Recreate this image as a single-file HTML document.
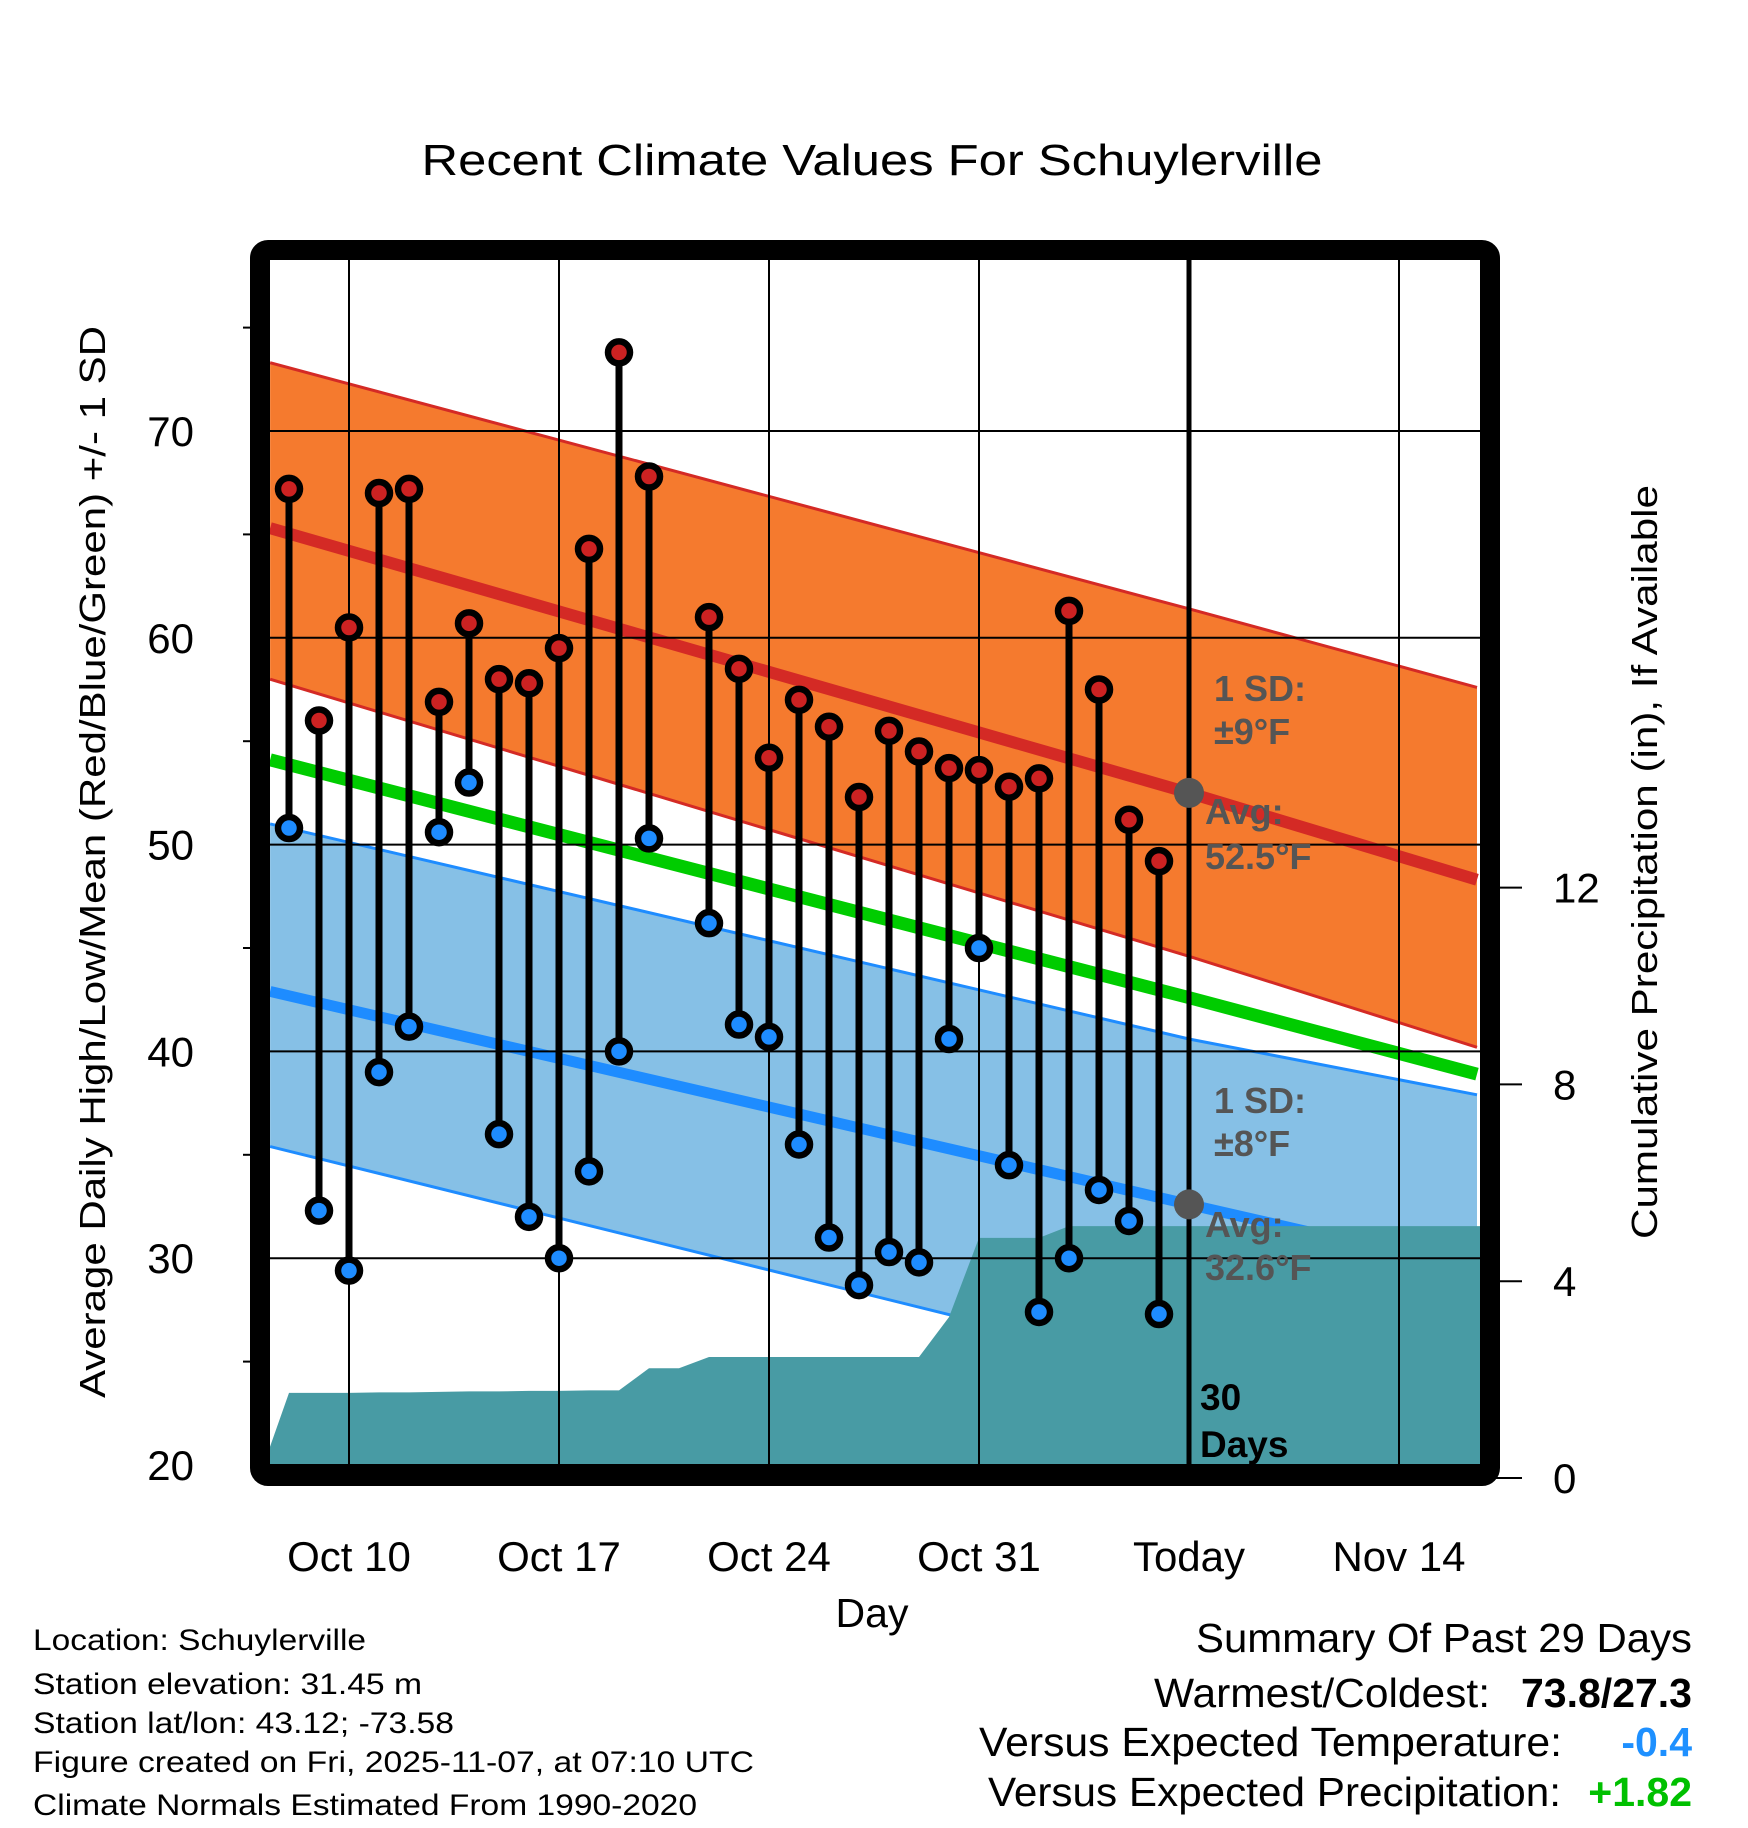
<!DOCTYPE html>
<html><head><meta charset="utf-8"><style>
html,body{margin:0;padding:0;background:#fff;}
svg{display:block;font-family:"Liberation Sans",Arial,sans-serif;}
</style></head><body>
<svg id="chart" width="1748" height="1828" viewBox="0 0 1748 1828" xmlns="http://www.w3.org/2000/svg">
<defs><clipPath id="plotclip"><rect x="270" y="260" width="1210" height="1206"/></clipPath></defs>
<text x="872" y="175" font-size="44" text-anchor="middle" textLength="901" lengthAdjust="spacingAndGlyphs">Recent Climate Values For Schuylerville</text>
<g id="grid"></g>
<g id="plot" clip-path="url(#plotclip)"></g>
<g id="overlay"></g>
<rect x="260" y="250" width="1230" height="1226" rx="8" fill="none" stroke="#000" stroke-width="20"/>
<g id="axes"></g>
<text transform="translate(105,862) rotate(-90)" font-size="36" text-anchor="middle" textLength="1072" lengthAdjust="spacingAndGlyphs">Average Daily High/Low/Mean (Red/Blue/Green) +/- 1 SD</text>
<text transform="translate(1657,862) rotate(-90)" font-size="36" text-anchor="middle" textLength="754" lengthAdjust="spacingAndGlyphs">Cumulative Precipitation (in), If Available</text>
<text x="872" y="1627" font-size="41" text-anchor="middle">Day</text>
<g font-size="30">
<text x="33" y="1650" textLength="333" lengthAdjust="spacingAndGlyphs">Location: Schuylerville</text>
<text x="33" y="1694" textLength="389" lengthAdjust="spacingAndGlyphs">Station elevation: 31.45 m</text>
<text x="33" y="1733" textLength="421" lengthAdjust="spacingAndGlyphs">Station lat/lon: 43.12; -73.58</text>
<text x="33" y="1772" textLength="721" lengthAdjust="spacingAndGlyphs">Figure created on Fri, 2025-11-07, at 07:10 UTC</text>
<text x="33" y="1815" textLength="664" lengthAdjust="spacingAndGlyphs">Climate Normals Estimated From 1990-2020</text>
</g>
<g font-size="41">
<text x="1196" y="1652" textLength="496" lengthAdjust="spacingAndGlyphs">Summary Of Past 29 Days</text>
<text x="1154" y="1707" textLength="336" lengthAdjust="spacingAndGlyphs">Warmest/Coldest:</text>
<text x="1692" y="1707" font-weight="bold" text-anchor="end">73.8/27.3</text>
<text x="979" y="1756" textLength="583" lengthAdjust="spacingAndGlyphs">Versus Expected Temperature:</text>
<text x="1692" y="1756" font-weight="bold" fill="#1e90ff" text-anchor="end">-0.4</text>
<text x="988" y="1806" textLength="573" lengthAdjust="spacingAndGlyphs">Versus Expected Precipitation:</text>
<text x="1692" y="1806" font-weight="bold" fill="#00c000" text-anchor="end">+1.82</text>
</g>
</svg>
<script>
// day index: 0 = Oct 10
const dayIdx = [-2,-1,0,1,2,3,4,5,6,7,8,9,10,12,13,14,15,16,17,18,19,20,21,22,23,24,25,26,27];
const highs = [67.2,56.0,60.5,67.0,67.2,56.9,60.7,58.0,57.8,59.5,64.3,73.8,67.8,61.0,58.5,54.2,57.0,55.7,52.3,55.5,54.5,53.7,53.6,52.8,53.2,61.3,57.5,51.2,49.2];
const lows = [50.8,32.3,29.4,39.0,41.2,50.6,53.0,36.0,32.0,30.0,34.2,40.0,50.3,46.2,41.3,40.7,35.5,31.0,28.7,30.3,29.8,40.6,45.0,34.5,27.4,30.0,33.3,31.8,27.3];
const precipDays = [-3,-2,-1,0,1,2,3,4,5,6,7,8,9,10,11,12,13,14,15,16,17,18,19,20,21,22,23,24,25,26,27,28,29,30,31,32,33,34,35,36,37,38];
const precipVals = [0,1.73,1.73,1.73,1.74,1.74,1.75,1.76,1.76,1.77,1.77,1.78,1.78,2.23,2.23,2.46,2.46,2.46,2.46,2.46,2.46,2.46,2.46,3.27,4.88,4.88,4.88,5.12,5.12,5.12,5.12,5.12,5.12,5.12,5.12,5.12,5.12,5.12,5.12,5.12,5.12,5.12];
const normDays = [-2.63, 28, 37.6];
const normHigh = [65.3, 52.5, 48.3];
const normLow = [42.9, 32.6, 29.4];
const normMean = [54.1, 42.6, 38.9];
const highUpper = [73.3, 61.4, 57.6];
const highLower = [58.0, 44.6, 40.2];
const lowUpper = [51.0, 40.6, 37.9];
const lowLower = [35.4, 24.4, 20.6];
const xTickDays = [0,7,14,21,28,35];
const xTickLabels = ["Oct 10","Oct 17","Oct 24","Oct 31","Today","Nov 14"];
const yTicks = [20,30,40,50,60,70];
const yMinor = [25,35,45,55,65,75];
const pTicks = [0,4,8,12];
const todayDay = 28;

const NS="http://www.w3.org/2000/svg";
const X = d => 349 + d*30;
const Y = t => 1465 - (t-20)*20.68;
const YP = p => 1478 - p*49.2;
function mk(tag, attrs, parent){const e=document.createElementNS(NS,tag);for(const k in attrs)e.setAttribute(k,attrs[k]);parent.appendChild(e);return e;}
const plot=document.getElementById('plot'), grid=document.getElementById('grid'), axes=document.getElementById('axes'), overlay=document.getElementById('overlay');
function pts(days, vals){return days.map((d,i)=>X(d)+','+Y(vals[i])).join(' ');}
function band(up, lo, fill, stroke, name){
  const p = pts(normDays, up) + ' ' + normDays.slice().reverse().map((d,i)=>X(d)+','+Y(lo[lo.length-1-i])).join(' ');
  const b=mk('polygon',{points:p,fill:fill},plot);
  
  
  const l1=mk('polyline',{points:pts(normDays,up),fill:'none',stroke:stroke,'stroke-width':3},plot);
  
  
  const l2=mk('polyline',{points:pts(normDays,lo),fill:'none',stroke:stroke,'stroke-width':3},plot);
  
  
}
band(highUpper, highLower, '#f57a2e', '#d42a25', 'high-sd-band');
band(lowUpper, lowLower, '#86c0e6', '#1e8cff', 'low-sd-band');
const lh=mk('polyline',{points:pts(normDays,normHigh),fill:'none',stroke:'#d42a25','stroke-width':12},plot);


const lm=mk('polyline',{points:pts(normDays,normMean),fill:'none',stroke:'#00cc00','stroke-width':13},plot);


const ll=mk('polyline',{points:pts(normDays,normLow),fill:'none',stroke:'#1e8cff','stroke-width':11},plot);


// precip
let pp = X(precipDays[0])+','+YP(0)+' '+precipDays.map((d,i)=>X(d)+','+YP(precipVals[i])).join(' ')+' '+X(precipDays[precipDays.length-1])+','+YP(0);
const pa=mk('polygon',{points:pp,fill:'#489ba4'},plot);


// grid
xTickDays.forEach((d,i)=>{
  const g=mk('line',{x1:X(d),x2:X(d),y1:218,y2:1510,stroke:'#000','stroke-width':2},grid);
  
  
  const t=mk('text',{x:X(d),y:1571,'font-size':42,'text-anchor':'middle'},axes);
  t.textContent=xTickLabels[i];
  
  
});
yTicks.forEach(v=>{
  const g=mk('line',{x1:225,x2:1480,y1:Y(v),y2:Y(v),stroke:'#000','stroke-width':2},grid);
  
  
  const t=mk('text',{x:194,y:Y(v)+15,'font-size':42,'text-anchor':'end'},axes);
  t.textContent=v;
  
  
});
yMinor.forEach(v=>{
  const g=mk('line',{x1:243,x2:252,y1:Y(v),y2:Y(v),stroke:'#000','stroke-width':2},axes);
  
  
});
pTicks.forEach(v=>{
  const g=mk('line',{x1:1495,x2:1522,y1:YP(v),y2:YP(v),stroke:'#000','stroke-width':2},axes);
  
  
  const t=mk('text',{x:1553,y:YP(v)+15,'font-size':42},axes);
  t.textContent=v;
  
  
});
// move grid above fills
plot.appendChild(grid);
// today line
const tl=mk('line',{x1:X(todayDay),x2:X(todayDay),y1:255,y2:1470,stroke:'#000','stroke-width':5},overlay);


// stems and markers
dayIdx.forEach((d,i)=>{
  const s=mk('line',{x1:X(d),x2:X(d),y1:Y(highs[i]),y2:Y(lows[i]),stroke:'#000','stroke-width':7},overlay);
  
  
});
dayIdx.forEach((d,i)=>{
  const h=mk('circle',{cx:X(d),cy:Y(highs[i]),r:11,fill:'#cc2222',stroke:'#000','stroke-width':6.5},overlay);
  
  
  const l=mk('circle',{cx:X(d),cy:Y(lows[i]),r:11,fill:'#1e8cff',stroke:'#000','stroke-width':6.5},overlay);
  
  
});
const todayHigh = normHigh[1], todayLow = normLow[1];
const gd1=mk('circle',{cx:X(todayDay),cy:Y(todayHigh),r:15,fill:'#555'},overlay);


const gd2=mk('circle',{cx:X(todayDay),cy:Y(todayLow),r:15,fill:'#555'},overlay);


const ann=[["1 SD:",1214,701],["\u00b19\u00b0F",1214,744],["Avg:",1205,824],[todayHigh.toFixed(1)+"\u00b0F",1205,869],["1 SD:",1214,1113],["\u00b18\u00b0F",1214,1156],["Avg:",1205,1237],[todayLow.toFixed(1)+"\u00b0F",1205,1280]];
ann.forEach(a=>{
  const t=mk('text',{x:a[1],y:a[2],'font-size':36,'font-weight':'bold',fill:'#555'},overlay);
  t.textContent=a[0];
  
  
});
[["30",1410],["Days",1457]].forEach(a=>{
  const t=mk('text',{x:1200,y:a[1],'font-size':37,'font-weight':'bold',fill:'#000'},overlay);
  t.textContent=a[0];
  
  
});
</script>
</body></html>
